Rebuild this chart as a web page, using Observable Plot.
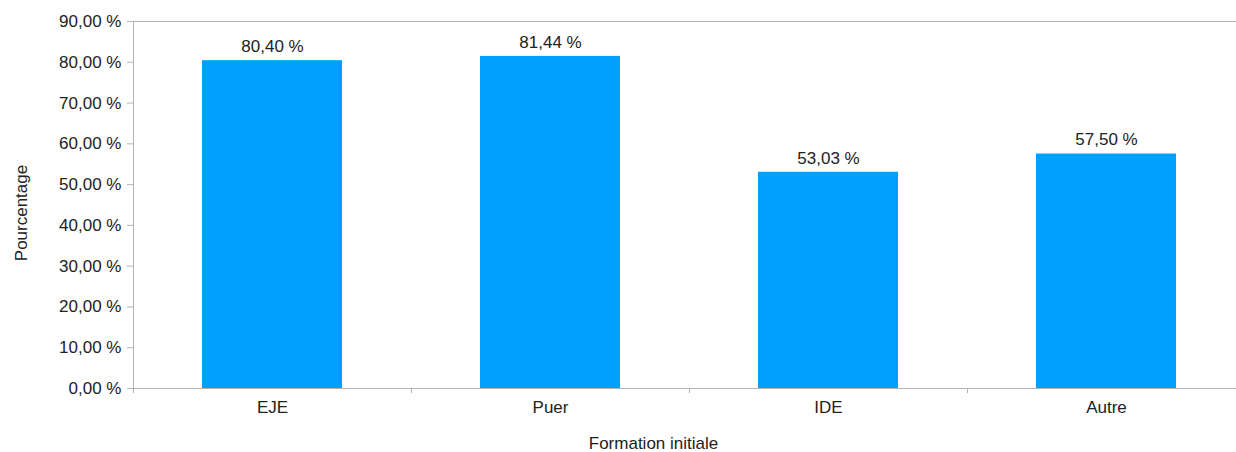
<!DOCTYPE html>
<html><head><meta charset="utf-8">
<script src="https://cdn.jsdelivr.net/npm/d3@7"></script>
<script src="https://cdn.jsdelivr.net/npm/@observablehq/plot@0.6"></script>
<style>html,body{margin:0;padding:0;overflow:hidden;background:#fff}</style>
</head><body><div id="chart"></div>
<script>
const categories = ["EJE", "Puer", "IDE", "Autre"];
const values = [80.40, 81.44, 53.03, 57.50];
const yTicks = [0, 10, 20, 30, 40, 50, 60, 70, 80, 90];
const yTitle = "Pourcentage";
const xTitle = "Formation initiale";

const fmt = v => d3.format(".2f")(v).replace(".", ",") + " %";
const data = categories.map((c, i) => ({cat: c, lo: i, hi: i + 1, mid: i + 0.5, base: 0, value: values[i]}));
const boundaries = d3.range(categories.length + 1);
const mids = categories.map((c, i) => i + 0.5);
const grey = "#b3b3b3";

const plot = Plot.plot({
  width: 1250, height: 452,
  marginLeft: 133, marginRight: 5, marginTop: 21, marginBottom: 64,
  style: {fontFamily: "'Liberation Sans', Arial, sans-serif", fontSize: "17px", color: "#222", background: "#fff", maxWidth: "none"},
  x: {type: "linear", domain: [0, categories.length]},
  y: {domain: [0, 90]},
  marks: [
    Plot.rect(data, {x1: "lo", x2: "hi", y1: "base", y2: "value", fill: "#00a1fe", insetLeft: 69, insetRight: 69}),
    Plot.ruleY([90], {stroke: grey}),
    Plot.ruleY([0], {stroke: grey}),
    Plot.ruleX([0], {stroke: grey}),
    Plot.axisY(yTicks, {tickSize: 6, tickPadding: 6, tickFormat: fmt, stroke: grey, label: null}),
    Plot.axisX(boundaries, {tickSize: 5, tickFormat: () => "", stroke: grey, label: null}),
    Plot.axisX(mids, {tickSize: 0, tickPadding: 12, tickFormat: d => categories[Math.floor(d)], label: null}),
    Plot.text(data, {x: "mid", y: "value", text: d => fmt(d.value), dy: -14}),
    Plot.text([yTitle], {frameAnchor: "left", textAnchor: "middle", lineAnchor: "middle", rotate: -90, dx: -112, dy: 8}),
    Plot.text([xTitle], {frameAnchor: "bottom", textAnchor: "middle", lineAnchor: "middle", dx: -36, dy: 55})
  ]
});
document.getElementById("chart").append(plot);
</script>
</body></html>
